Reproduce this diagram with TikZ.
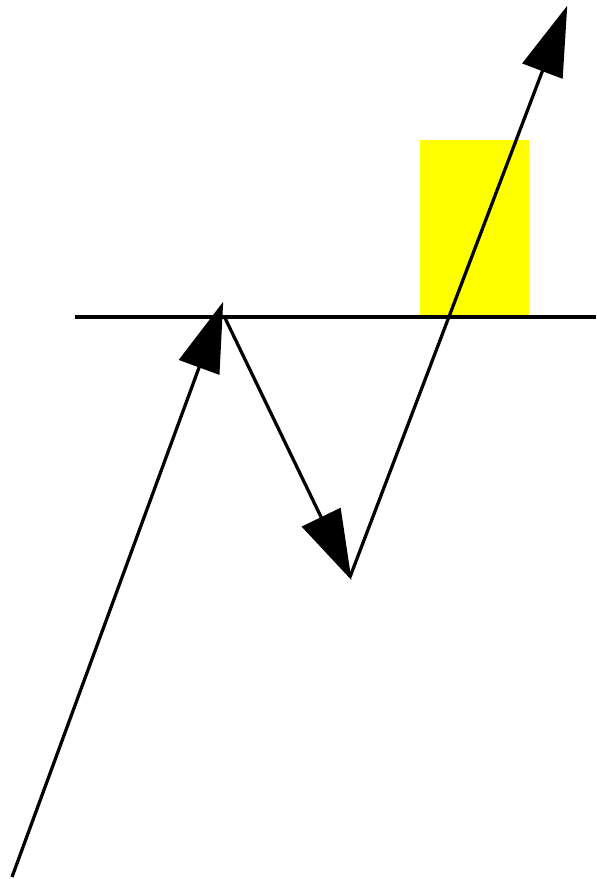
\documentclass[tikz,border=0pt]{standalone}
\usetikzlibrary{arrows.meta}
\definecolor{zone}{HTML}{FFFF00}

\begin{document}
\begin{tikzpicture}[
    x=0.02cm, y=-0.02cm,
    >={Triangle[length=1.4cm, width=0.85cm]},
    move/.style={->, line width=0.065cm, shorten >=-2pt},
    level/.style={line width=0.07cm}
]
\useasboundingbox (0,0) rectangle (596,879);

% Points
\coordinate (start) at (12,877);
\coordinate (peak) at (222,305);
\coordinate (top) at (225,318);
\coordinate (low) at (350,577);
\coordinate (high) at (566,9);
\coordinate (levelL) at (75,317);
\coordinate (levelR) at (596,317);

% Zone
\fill[zone] (420,140) rectangle (529,317);

% Level
\draw[level] (levelL) -- (levelR);

% Moves
\draw[move] (start) -- (peak);
\draw[move] (top) -- (low);
\draw[move] (low) -- (high);

\end{tikzpicture}
\end{document}
